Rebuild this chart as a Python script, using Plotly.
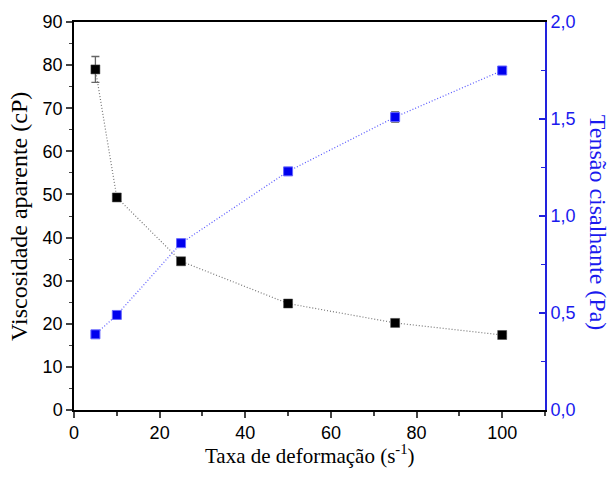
import plotly.graph_objects as go

shear_rate = [5, 10, 25, 50, 75, 100]
viscosity = [79.0, 49.3, 34.5, 24.7, 20.2, 17.4]
viscosity_err = [3.0, 0.5, 0.5, 0.4, 0.4, 0.4]
stress = [0.39, 0.49, 0.86, 1.23, 1.51, 1.75]
stress_err = [0.015, 0.015, 0.015, 0.01, 0.025, 0.01]

x_ticks = [0, 20, 40, 60, 80, 100]
y1_ticks = [0, 10, 20, 30, 40, 50, 60, 70, 80, 90]
y2_ticks = [0.0, 0.5, 1.0, 1.5, 2.0]
y2_labels = ["0,0", "0,5", "1,0", "1,5", "2,0"]

fig = go.Figure()
fig.add_trace(go.Scatter(
    x=shear_rate, y=viscosity, mode="lines+markers",
    line=dict(color="#777777", width=1.2, dash="1px,2px"),
    marker=dict(symbol="square", size=9, color="black", line=dict(color="#444", width=0.5)),
    error_y=dict(type="data", array=viscosity_err, color="#666666", thickness=1.3, width=4),
    yaxis="y", showlegend=False))
fig.add_trace(go.Scatter(
    x=shear_rate, y=stress, mode="lines+markers",
    line=dict(color="#5555ff", width=1.2, dash="1px,2px"),
    marker=dict(symbol="square", size=9, color="#0000ee", line=dict(color="#6666ff", width=1)),
    error_y=dict(type="data", array=stress_err, color="black", thickness=1.3, width=4),
    yaxis="y2", showlegend=False))

tickfont = dict(family="Liberation Sans, Arial", size=18, color="black")
fig.update_layout(
    width=614, height=488,
    margin=dict(l=74, r=69, t=22, b=78),
    paper_bgcolor="white", plot_bgcolor="white",
    xaxis=dict(range=[0, 110], tickvals=x_ticks, ticks="outside", ticklen=6, tickwidth=1.5,
               minor=dict(dtick=10, tick0=0, ticks="outside", ticklen=4, tickwidth=1.5),
               showline=True, linecolor="black", linewidth=1.5, mirror=True,
               showgrid=False, zeroline=False, tickfont=tickfont),
    yaxis=dict(range=[0, 90], tickvals=y1_ticks, ticks="outside", ticklen=6, tickwidth=1.5,
               minor=dict(dtick=5, tick0=0, ticks="outside", ticklen=3, tickwidth=1.2),
               showline=True, linecolor="black", linewidth=1.5,
               showgrid=False, zeroline=False, tickfont=tickfont),
    yaxis2=dict(range=[0, 2.0], overlaying="y", side="right", tickvals=y2_ticks, ticktext=y2_labels,
                ticks="inside", ticklen=6, tickwidth=1.5, tickcolor="#2222dd",
                minor=dict(dtick=0.25, tick0=0, ticks="inside", ticklen=4, tickwidth=1.2, tickcolor="#2222dd"),
                showline=True, linecolor="#2222dd", linewidth=2,
                showgrid=False, zeroline=False,
                tickfont=dict(family="Liberation Sans, Arial", size=18, color="#1a1aee")),
    annotations=[
        dict(text="Taxa de deformação (s<sup>-1</sup>)", xref="paper", yref="paper", x=0.5, y=-0.075,
             xanchor="center", yanchor="top", showarrow=False,
             font=dict(family="Liberation Serif, Times New Roman", size=21, color="black")),
        dict(text="Viscosidade aparente (cP)", xref="paper", yref="paper", x=-0.117, y=0.5,
             xanchor="center", yanchor="middle", textangle=-90, showarrow=False,
             font=dict(family="Liberation Serif, Times New Roman", size=24, color="black")),
        dict(text="Tensão cisalhante (Pa)", xref="paper", yref="paper", x=1.113, y=0.482,
             xanchor="center", yanchor="middle", textangle=90, showarrow=False,
             font=dict(family="Liberation Serif, Times New Roman", size=24, color="#1a1aee")),
    ],
)
fig.write_html("out.html")
